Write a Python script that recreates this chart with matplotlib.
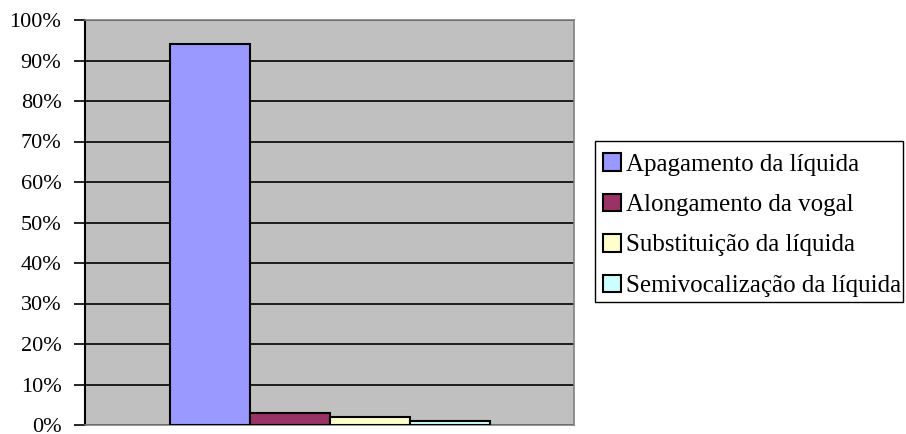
import matplotlib
matplotlib.use('Agg')
import matplotlib.pyplot as plt
from matplotlib.patches import Rectangle
import numpy as np

plt.rcParams['font.family'] = ['Liberation Serif', 'DejaVu Serif']

# data
series = ['Apagamento da líquida', 'Alongamento da vogal',
          'Substituição da líquida', 'Semivocalização da líquida']
values = [94, 3, 2, 1]
colors = ['#9999FF', '#993366', '#FFFFCC', '#CCFFFF']
yticks = np.arange(0, 101, 10)
ytick_labels = ['%d%%' % t for t in yticks]

W, H = 906, 434
fig = plt.figure(figsize=(W / 100, H / 100), dpi=100)
ax = fig.add_axes([85 / W, (H - 425) / H, 489 / W, 405 / H])
ax.set_facecolor('#C0C0C0')

w = 80 / 489
offs = (np.arange(len(values)) - 1.5) * w
for x, v, c, lab in zip(offs, values, colors, series):
    ax.bar(x, v, width=w, color=c, edgecolor='black', linewidth=1.5, label=lab, zorder=3)

ax.set_xlim(-0.5, 0.5)
ax.set_ylim(0, 100)
ax.set_yticks(yticks)
ax.set_yticklabels(ytick_labels, fontsize=16)
ax.set_xticks([])
ax.yaxis.grid(True, color='black', linewidth=1.2, zorder=1)
ax.tick_params(axis='y', direction='out', length=8, width=1.2, pad=9)

for s in ['top', 'right', 'bottom']:
    ax.spines[s].set_color('#808080')
    ax.spines[s].set_linewidth(1.2)
ax.spines['left'].set_color('black')
ax.spines['left'].set_linewidth(1.5)

# legend (frame drawn separately)
leg = fig.legend(loc='center left', bbox_to_anchor=(603 / W, (H - 225) / H),
                 fontsize=18, frameon=False,
                 handlelength=0.7, handleheight=0.7, handletextpad=0.2,
                 labelspacing=0.72, borderpad=0, borderaxespad=0)
fig.patches.append(Rectangle((595 / W, (H - 302) / H), 308 / W, 161 / H,
                             transform=fig.transFigure, fill=False,
                             edgecolor='black', linewidth=1.0))

fig.savefig('out.png', dpi=100)
